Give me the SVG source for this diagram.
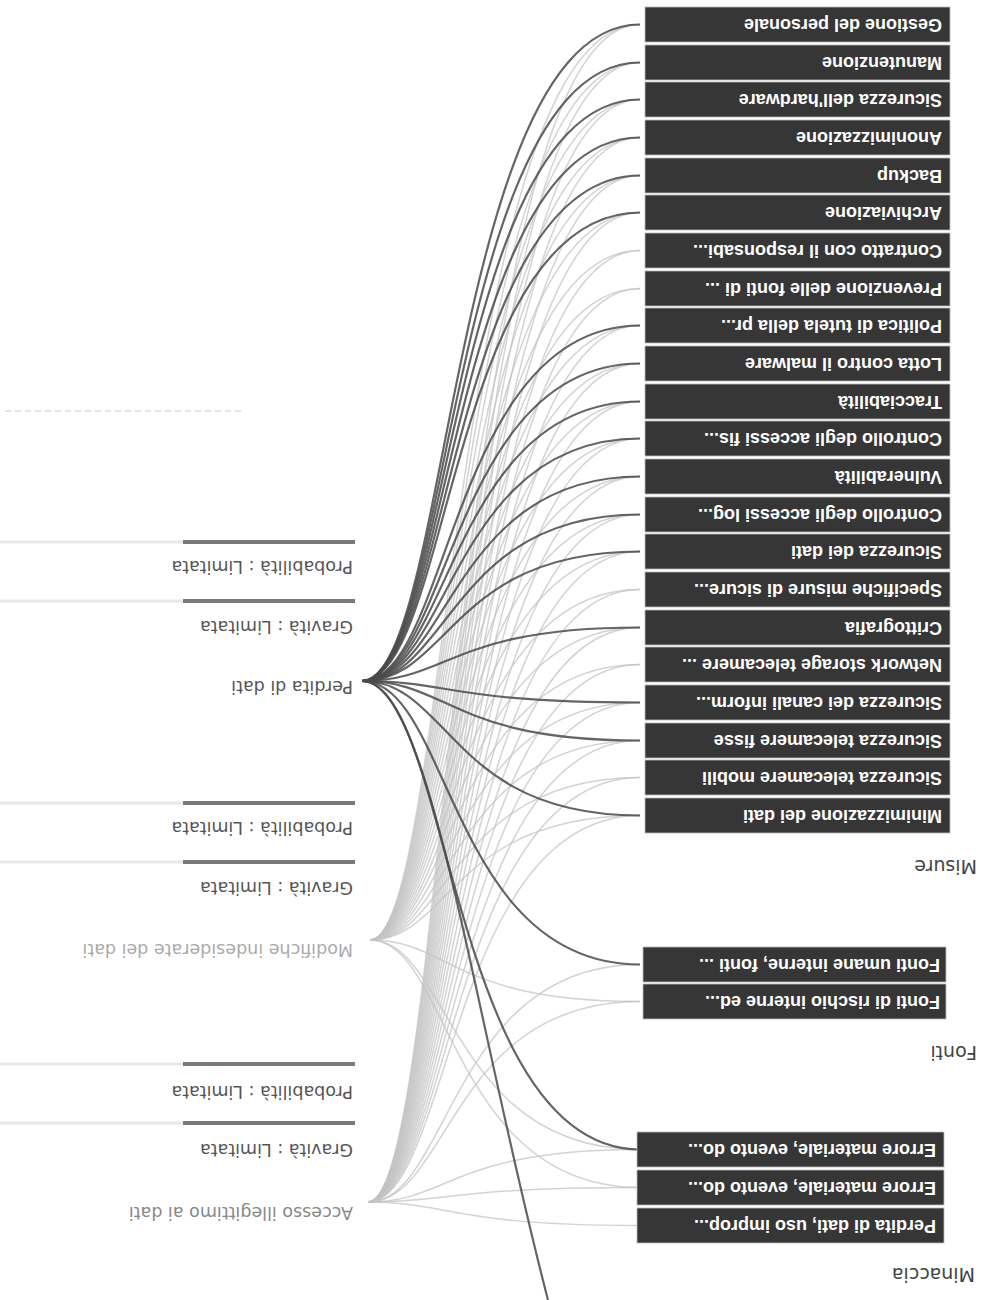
<svg xmlns="http://www.w3.org/2000/svg" width="993" height="1300" viewBox="0 0 993 1300">
<style>
.box{fill:#363636;stroke:#bbb;stroke-width:0.8}
.bt{font-family:"Liberation Sans",Arial,sans-serif;font-size:18px;font-weight:bold;fill:#fff;dominant-baseline:central}
.hd{font-family:"DejaVu Sans",sans-serif;font-size:19px;fill:#444;dominant-baseline:central}
.lb{font-family:"DejaVu Sans",sans-serif;font-size:17.5px;dominant-baseline:central}
.dk{fill:none;stroke:#4a4a4a;stroke-width:2.2;opacity:0.85}
.lt{fill:none;stroke:#c4c4c4;stroke-width:1.5;opacity:0.75}
.barbg{stroke:#e8e8e8;stroke-width:3}
.barfg{stroke:#7a7a7a;stroke-width:4}
</style>
<rect width="993" height="1300" fill="#fff"/>
<g id="connectors">
<g id="light-modifiche">
<path class="lt" d="M370,940C450,940 450,24.5 640,24.5"/>
<path class="lt" d="M370,940C450,940 450,62.5 640,62.5"/>
<path class="lt" d="M370,940C450,940 450,99.5 640,99.5"/>
<path class="lt" d="M370,940C450,940 450,137.5 640,137.5"/>
<path class="lt" d="M370,940C450,940 450,175.5 640,175.5"/>
<path class="lt" d="M370,940C450,940 450,212.5 640,212.5"/>
<path class="lt" d="M370,940C450,940 450,250.5 640,250.5"/>
<path class="lt" d="M370,940C450,940 450,288.5 640,288.5"/>
<path class="lt" d="M370,940C450,940 450,325.5 640,325.5"/>
<path class="lt" d="M370,940C450,940 450,363.5 640,363.5"/>
<path class="lt" d="M370,940C450,940 450,401.5 640,401.5"/>
<path class="lt" d="M370,940C450,940 450,438.5 640,438.5"/>
<path class="lt" d="M370,940C450,940 450,476.5 640,476.5"/>
<path class="lt" d="M370,940C450,940 450,514.5 640,514.5"/>
<path class="lt" d="M370,940C450,940 450,551.5 640,551.5"/>
<path class="lt" d="M370,940C450,940 450,589.5 640,589.5"/>
<path class="lt" d="M370,940C450,940 450,627.5 640,627.5"/>
<path class="lt" d="M370,940C450,940 450,664.5 640,664.5"/>
<path class="lt" d="M370,940C450,940 450,702.5 640,702.5"/>
<path class="lt" d="M370,940C450,940 450,740.5 640,740.5"/>
<path class="lt" d="M370,940C450,940 450,777.5 640,777.5"/>
<path class="lt" d="M370,940C450,940 450,815.5 640,815.5"/>
<path class="lt" d="M370,940C450,940 450,1001.5 640,1001.5"/>
<path class="lt" d="M370,940C450,940 450,1149.5 640,1149.5"/>
<path class="lt" d="M370,940C450,940 450,1187.5 640,1187.5"/>
</g>
<g id="light-accesso">
<path class="lt" d="M368,1202C450,1202 450,24.5 640,24.5"/>
<path class="lt" d="M368,1202C450,1202 450,62.5 640,62.5"/>
<path class="lt" d="M368,1202C450,1202 450,99.5 640,99.5"/>
<path class="lt" d="M368,1202C450,1202 450,137.5 640,137.5"/>
<path class="lt" d="M368,1202C450,1202 450,175.5 640,175.5"/>
<path class="lt" d="M368,1202C450,1202 450,212.5 640,212.5"/>
<path class="lt" d="M368,1202C450,1202 450,250.5 640,250.5"/>
<path class="lt" d="M368,1202C450,1202 450,288.5 640,288.5"/>
<path class="lt" d="M368,1202C450,1202 450,325.5 640,325.5"/>
<path class="lt" d="M368,1202C450,1202 450,363.5 640,363.5"/>
<path class="lt" d="M368,1202C450,1202 450,401.5 640,401.5"/>
<path class="lt" d="M368,1202C450,1202 450,438.5 640,438.5"/>
<path class="lt" d="M368,1202C450,1202 450,476.5 640,476.5"/>
<path class="lt" d="M368,1202C450,1202 450,514.5 640,514.5"/>
<path class="lt" d="M368,1202C450,1202 450,551.5 640,551.5"/>
<path class="lt" d="M368,1202C450,1202 450,589.5 640,589.5"/>
<path class="lt" d="M368,1202C450,1202 450,627.5 640,627.5"/>
<path class="lt" d="M368,1202C450,1202 450,664.5 640,664.5"/>
<path class="lt" d="M368,1202C450,1202 450,702.5 640,702.5"/>
<path class="lt" d="M368,1202C450,1202 450,740.5 640,740.5"/>
<path class="lt" d="M368,1202C450,1202 450,777.5 640,777.5"/>
<path class="lt" d="M368,1202C450,1202 450,815.5 640,815.5"/>
<path class="lt" d="M368,1202C450,1202 450,964.5 640,964.5"/>
<path class="lt" d="M368,1202C450,1202 450,1001.5 640,1001.5"/>
<path class="lt" d="M368,1202C450,1202 450,1149.5 640,1149.5"/>
<path class="lt" d="M368,1202C450,1202 450,1187.5 640,1187.5"/>
<path class="lt" d="M368,1202C450,1202 450,1225.5 640,1225.5"/>
</g>
<g id="dark-perdita">
<path class="dk" d="M362,681C450,681 450,24.5 640,24.5"/>
<path class="dk" d="M362,681C450,681 450,62.5 640,62.5"/>
<path class="dk" d="M362,681C450,681 450,99.5 640,99.5"/>
<path class="dk" d="M362,681C450,681 450,137.5 640,137.5"/>
<path class="dk" d="M362,681C450,681 450,175.5 640,175.5"/>
<path class="dk" d="M362,681C450,681 450,212.5 640,212.5"/>
<path class="dk" d="M362,681C450,681 450,325.5 640,325.5"/>
<path class="dk" d="M362,681C450,681 450,363.5 640,363.5"/>
<path class="dk" d="M362,681C450,681 450,401.5 640,401.5"/>
<path class="dk" d="M362,681C450,681 450,438.5 640,438.5"/>
<path class="dk" d="M362,681C450,681 450,476.5 640,476.5"/>
<path class="dk" d="M362,681C450,681 450,514.5 640,514.5"/>
<path class="dk" d="M362,681C450,681 450,551.5 640,551.5"/>
<path class="dk" d="M362,681C450,681 450,627.5 640,627.5"/>
<path class="dk" d="M362,681C450,681 450,702.5 640,702.5"/>
<path class="dk" d="M362,681C450,681 450,740.5 640,740.5"/>
<path class="dk" d="M362,681C450,681 450,815.5 640,815.5"/>
<path class="dk" d="M362,681C450,681 450,964.5 640,964.5"/>
<path class="dk" d="M362,681C450,681 450,1149.5 640,1149.5"/>
<path class="dk" d="M362,681C430,681 470,1000 548,1300"/>
</g>
</g>
<g id="misure">
<g id="m1"><rect class="box" x="645" y="7" width="305" height="35"/><text class="bt" x="942" y="24.5" transform="rotate(180 942 24.5)">Gestione del personale</text></g>
<g id="m2"><rect class="box" x="645" y="45" width="305" height="35"/><text class="bt" x="942" y="62.5" transform="rotate(180 942 62.5)">Manutenzione</text></g>
<g id="m3"><rect class="box" x="645" y="82" width="305" height="35"/><text class="bt" x="942" y="99.5" transform="rotate(180 942 99.5)">Sicurezza dell'hardware</text></g>
<g id="m4"><rect class="box" x="645" y="120" width="305" height="35"/><text class="bt" x="942" y="137.5" transform="rotate(180 942 137.5)">Anonimizzazione</text></g>
<g id="m5"><rect class="box" x="645" y="158" width="305" height="35"/><text class="bt" x="942" y="175.5" transform="rotate(180 942 175.5)">Backup</text></g>
<g id="m6"><rect class="box" x="645" y="195" width="305" height="35"/><text class="bt" x="942" y="212.5" transform="rotate(180 942 212.5)">Archiviazione</text></g>
<g id="m7"><rect class="box" x="645" y="233" width="305" height="35"/><text class="bt" x="942" y="250.5" transform="rotate(180 942 250.5)">Contratto con il responsabi...</text></g>
<g id="m8"><rect class="box" x="645" y="271" width="305" height="35"/><text class="bt" x="942" y="288.5" transform="rotate(180 942 288.5)">Prevenzione delle fonti di ...</text></g>
<g id="m9"><rect class="box" x="645" y="308" width="305" height="35"/><text class="bt" x="942" y="325.5" transform="rotate(180 942 325.5)">Politica di tutela della pr...</text></g>
<g id="m10"><rect class="box" x="645" y="346" width="305" height="35"/><text class="bt" x="942" y="363.5" transform="rotate(180 942 363.5)">Lotta contro il malware</text></g>
<g id="m11"><rect class="box" x="645" y="384" width="305" height="35"/><text class="bt" x="942" y="401.5" transform="rotate(180 942 401.5)">Tracciabilità</text></g>
<g id="m12"><rect class="box" x="645" y="421" width="305" height="35"/><text class="bt" x="942" y="438.5" transform="rotate(180 942 438.5)">Controllo degli accessi fis...</text></g>
<g id="m13"><rect class="box" x="645" y="459" width="305" height="35"/><text class="bt" x="942" y="476.5" transform="rotate(180 942 476.5)">Vulnerabilità</text></g>
<g id="m14"><rect class="box" x="645" y="497" width="305" height="35"/><text class="bt" x="942" y="514.5" transform="rotate(180 942 514.5)">Controllo degli accessi log...</text></g>
<g id="m15"><rect class="box" x="645" y="534" width="305" height="35"/><text class="bt" x="942" y="551.5" transform="rotate(180 942 551.5)">Sicurezza dei dati</text></g>
<g id="m16"><rect class="box" x="645" y="572" width="305" height="35"/><text class="bt" x="942" y="589.5" transform="rotate(180 942 589.5)">Specifiche misure di sicure...</text></g>
<g id="m17"><rect class="box" x="645" y="610" width="305" height="35"/><text class="bt" x="942" y="627.5" transform="rotate(180 942 627.5)">Crittografia</text></g>
<g id="m18"><rect class="box" x="645" y="647" width="305" height="35"/><text class="bt" x="942" y="664.5" transform="rotate(180 942 664.5)">Network storage telecamere ...</text></g>
<g id="m19"><rect class="box" x="645" y="685" width="305" height="35"/><text class="bt" x="942" y="702.5" transform="rotate(180 942 702.5)">Sicurezza dei canali inform...</text></g>
<g id="m20"><rect class="box" x="645" y="723" width="305" height="35"/><text class="bt" x="942" y="740.5" transform="rotate(180 942 740.5)">Sicurezza telecamere fisse</text></g>
<g id="m21"><rect class="box" x="645" y="760" width="305" height="35"/><text class="bt" x="942" y="777.5" transform="rotate(180 942 777.5)">Sicurezza telecamere mobili</text></g>
<g id="m22"><rect class="box" x="645" y="798" width="305" height="35"/><text class="bt" x="942" y="815.5" transform="rotate(180 942 815.5)">Minimizzazione dei dati</text></g>
<text class="hd" x="977" y="867" transform="rotate(180 977 867)">Misure</text>
</g>
<g id="fonti">
<g id="f1"><rect class="box" x="643" y="947" width="303" height="35"/><text class="bt" x="940" y="964.5" transform="rotate(180 940 964.5)">Fonti umane interne, fonti ...</text></g>
<g id="f2"><rect class="box" x="643" y="984" width="303" height="35"/><text class="bt" x="940" y="1001.5" transform="rotate(180 940 1001.5)">Fonti di rischio interne ed...</text></g>
<text class="hd" x="977" y="1053" transform="rotate(180 977 1053)">Fonti</text>
</g>
<g id="minaccia">
<g id="t1"><rect class="box" x="637" y="1132" width="307" height="35"/><text class="bt" x="936" y="1149.5" transform="rotate(180 936 1149.5)">Errore materiale, evento do...</text></g>
<g id="t2"><rect class="box" x="637" y="1170" width="307" height="35"/><text class="bt" x="936" y="1187.5" transform="rotate(180 936 1187.5)">Errore materiale, evento do...</text></g>
<g id="t3"><rect class="box" x="637" y="1208" width="307" height="35"/><text class="bt" x="936" y="1225.5" transform="rotate(180 936 1225.5)">Perdita di dati, uso improp...</text></g>
<text class="hd" x="975" y="1275" transform="rotate(180 975 1275)">Minaccia</text>
</g>
<g id="risk-perdita">
<line class="barbg" x1="0" y1="542" x2="355" y2="542"/><line class="barfg" x1="183" y1="542" x2="355" y2="542"/>
<text class="lb" fill="#555" x="353" y="567" transform="rotate(180 353 567)">Probabilità : Limitata</text>
<line class="barbg" x1="0" y1="601" x2="355" y2="601"/><line class="barfg" x1="183" y1="601" x2="355" y2="601"/>
<text class="lb" fill="#555" x="353" y="627" transform="rotate(180 353 627)">Gravità : Limitata</text>
<text class="lb" fill="#555" x="353" y="687" transform="rotate(180 353 687)">Perdita di dati</text>
</g>
<g id="risk-modifiche">
<line class="barbg" x1="0" y1="803" x2="355" y2="803"/><line class="barfg" x1="183" y1="803" x2="355" y2="803"/>
<text class="lb" fill="#555" x="353" y="828" transform="rotate(180 353 828)">Probabilità : Limitata</text>
<line class="barbg" x1="0" y1="862" x2="355" y2="862"/><line class="barfg" x1="183" y1="862" x2="355" y2="862"/>
<text class="lb" fill="#555" x="353" y="888" transform="rotate(180 353 888)">Gravità : Limitata</text>
<text class="lb" fill="#aaa" x="353" y="950" transform="rotate(180 353 950)">Modifiche indesiderate dei dati</text>
</g>
<g id="risk-accesso">
<line class="barbg" x1="0" y1="1064" x2="355" y2="1064"/><line class="barfg" x1="183" y1="1064" x2="355" y2="1064"/>
<text class="lb" fill="#555" x="353" y="1092" transform="rotate(180 353 1092)">Probabilità : Limitata</text>
<line class="barbg" x1="0" y1="1123" x2="355" y2="1123"/><line class="barfg" x1="183" y1="1123" x2="355" y2="1123"/>
<text class="lb" fill="#555" x="353" y="1150" transform="rotate(180 353 1150)">Gravità : Limitata</text>
<text class="lb" fill="#888" x="353" y="1213" transform="rotate(180 353 1213)">Accesso illegittimo ai dati</text>
</g>
<line x1="5" y1="411" x2="245" y2="411" stroke="#ddd" stroke-width="1.5" stroke-dasharray="6 4"/>
</svg>
